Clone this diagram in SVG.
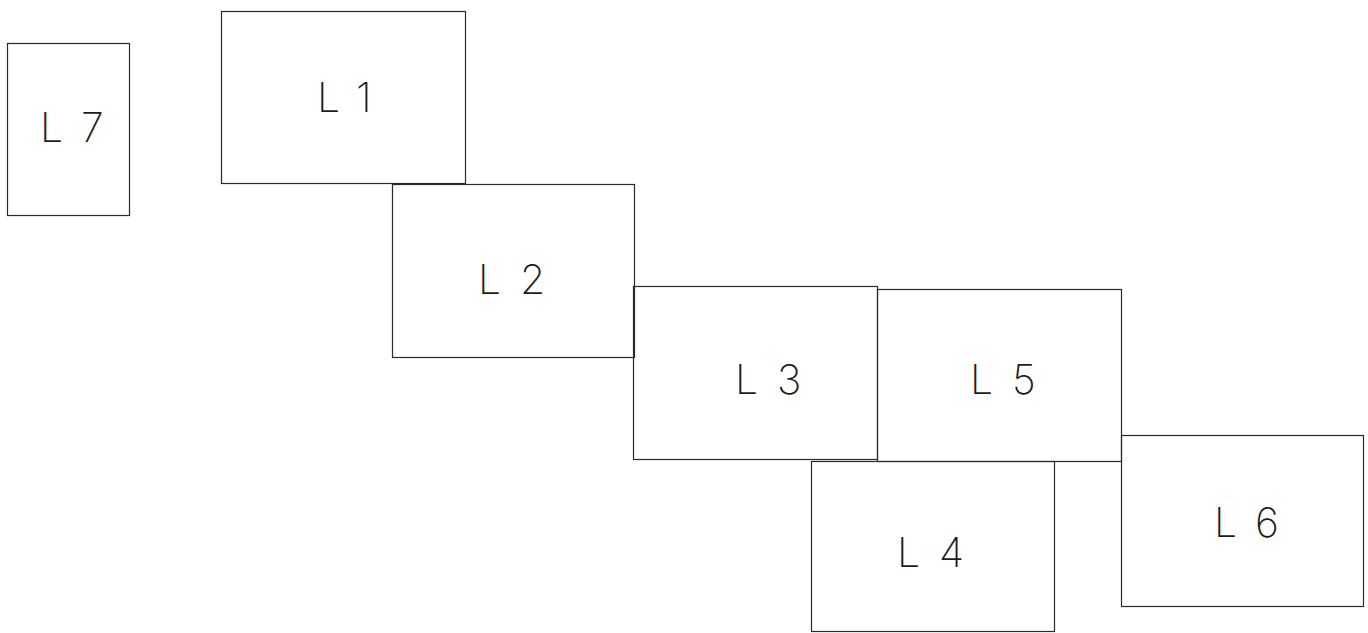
<svg xmlns="http://www.w3.org/2000/svg" width="1368" height="633" viewBox="0 0 1368 633">
  <style>
    .box { fill: none; stroke: #2a2a2a; stroke-width: 1.2; }
    .lbl { font-family: "Inter", "DejaVu Sans", "Liberation Sans", sans-serif; font-weight: 200; font-size: 41px; fill: #1a1a1a; opacity: 0.99; }
  </style>
  <rect width="1368" height="633" fill="#ffffff"/>
  <g id="connectors"></g>
  <g id="L7">
    <rect class="box" x="7.5" y="43.5" width="122" height="172"/>
    <text class="lbl" x="40 60 81" y="142">L 7</text>
  </g>
  <g id="L1">
    <rect class="box" x="221.5" y="11.5" width="244" height="172"/>
    <text class="lbl" x="317 337 356" y="112">L 1</text>
  </g>
  <g id="L2">
    <rect class="box" x="392.5" y="184.5" width="242" height="173"/>
    <text class="lbl" x="478 498 520" y="294">L 2</text>
  </g>
  <g id="L3">
    <rect class="box" x="633.5" y="286.5" width="244" height="173"/>
    <text class="lbl" x="735 755 777" y="394">L 3</text>
  </g>
  <g id="L5">
    <rect class="box" x="877.5" y="289.5" width="244" height="172"/>
    <text class="lbl" x="970 990 1012" y="394">L 5</text>
  </g>
  <g id="L4">
    <rect class="box" x="811.5" y="461.5" width="243" height="170"/>
    <text class="lbl" x="897 917 939" y="567">L 4</text>
  </g>
  <g id="L6">
    <rect class="box" x="1121.5" y="435.5" width="242" height="171"/>
    <text class="lbl" x="1214 1234 1255" y="537">L 6</text>
  </g>
</svg>
